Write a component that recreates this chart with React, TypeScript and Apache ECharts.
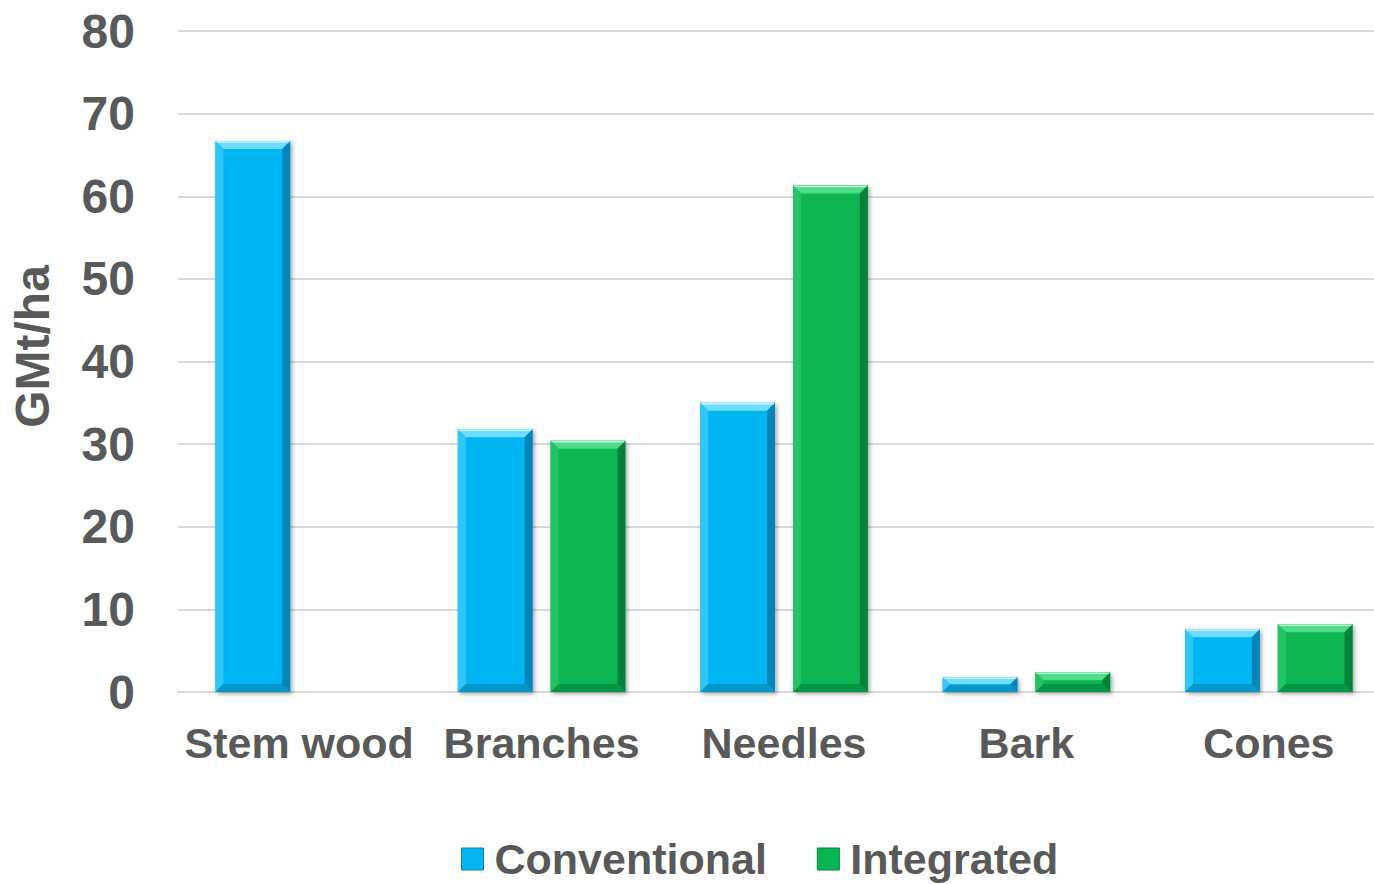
import React, { useEffect, useRef } from "react";
import * as echarts from "echarts";

const categories = ["Stem wood", "Branches", "Needles", "Bark", "Cones"];
const conventional: (number | null)[] = [66.7, 31.8, 35.0, 1.8, 7.6];
const integrated: (number | null)[] = [null, 30.4, 61.3, 2.4, 8.2];
const yTicks = { min: 0, max: 80, interval: 10 };

const FONT = "'Liberation Sans', Arial, sans-serif";
const TEXT = "#595959";

const palettes = {
  conv: { main: "#05B6F2", top: "#6FDDFF", left: "#2EC6F8", right: "#0385B8", bottom: "#0596CC" },
  integ: { main: "#07B552", top: "#4FDC88", left: "#22C466", right: "#03803A", bottom: "#059844" },
};

function makeRender(pal: any, side: number) {
  return (params: any, api: any) => {
    const v = api.value(1);
    if (v === null || v === undefined || isNaN(v)) return null;
    const ci = api.value(0);
    const base = api.coord([ci, 0]);
    const top = api.coord([ci, v]);
    const catW = api.size([1, 0])[0];
    const bw = (catW * 75) / 243;
    const off = (catW * 46.5) / 243;
    const cx = base[0] + side * off;
    const x0 = cx - bw / 2;
    const x1 = cx + bw / 2;
    const y0 = top[1];
    const y1 = base[1];
    const h = y1 - y0;
    const b = Math.min(8, h / 2, bw / 2);
    return {
      type: "group",
      children: [
        {
          type: "rect",
          shape: { x: x0, y: y0, width: bw, height: h },
          style: {
            fill: pal.main,
            shadowColor: "rgba(0,0,0,0.35)",
            shadowBlur: 4,
            shadowOffsetX: 2,
            shadowOffsetY: 2,
          },
        },
        {
          type: "polygon",
          shape: { points: [[x0, y0], [x1, y0], [x1 - b, y0 + b], [x0 + b, y0 + b]] },
          style: { fill: pal.top },
        },
        {
          type: "polygon",
          shape: { points: [[x0, y0], [x0 + b, y0 + b], [x0 + b, y1 - b], [x0, y1]] },
          style: { fill: pal.left },
        },
        {
          type: "polygon",
          shape: { points: [[x1, y0], [x1, y1], [x1 - b, y1 - b], [x1 - b, y0 + b]] },
          style: { fill: pal.right },
        },
        {
          type: "polygon",
          shape: { points: [[x0, y1], [x0 + b, y1 - b], [x1 - b, y1 - b], [x1, y1]] },
          style: { fill: pal.bottom },
        },
        {
          type: "line",
          shape: { x1: x0 + 1, y1: y0 + 1, x2: x1 - 1, y2: y0 + 1 },
          style: { stroke: "rgba(255,255,255,0.6)", lineWidth: 1.5 },
        },
      ],
    };
  };
}

function toData(arr: (number | null)[]) {
  const out: any[] = [];
  arr.forEach((v, i) => {
    if (v !== null) out.push([i, v]);
  });
  return out;
}

export default function App() {
  const ref = useRef<HTMLDivElement>(null);
  useEffect(() => {
    if (!ref.current) return;
    const chart = echarts.init(ref.current, null, { renderer: "svg" });
    chart.setOption({
      animation: false,
      backgroundColor: "#ffffff",
      textStyle: { fontFamily: FONT },
      grid: { left: 175, top: 31, width: 1215, height: 661, containLabel: false },
      legend: {
        left: 456,
        top: 832,
        icon: "rect",
        itemWidth: 22,
        itemHeight: 22,
        itemGap: 50,
        textStyle: {
          fontFamily: FONT,
          fontWeight: "bold",
          fontSize: 43,
          lineHeight: 44,
          color: TEXT,
          padding: [0, 0, 0, 6],
        },
        data: [
          { name: "Conventional", itemStyle: { color: palettes.conv.main, borderColor: "#0385B8", borderWidth: 1 } },
          { name: "Integrated", itemStyle: { color: palettes.integ.main, borderColor: "#03803A", borderWidth: 1 } },
        ],
      },
      xAxis: {
        type: "category",
        data: categories,
        axisLine: { show: true, lineStyle: { color: "#D9D9D9", width: 2 } },
        axisTick: { show: false },
        axisLabel: {
          margin: 29,
          fontFamily: FONT,
          fontWeight: "bold",
          fontSize: 43,
          color: TEXT,
          interval: 0,
        },
      },
      yAxis: {
        type: "value",
        min: yTicks.min,
        max: yTicks.max,
        interval: yTicks.interval,
        name: "GMt/ha",
        nameLocation: "middle",
        nameGap: 122,
        nameTextStyle: {
          fontFamily: FONT,
          fontWeight: "bold",
          fontSize: 48,
          color: TEXT,
          padding: [0, 0, 0, 30],
        },
        axisLine: { show: false },
        axisTick: { show: false },
        splitLine: { lineStyle: { color: "#D9D9D9", width: 2 } },
        axisLabel: {
          margin: 43,
          fontFamily: FONT,
          fontWeight: "bold",
          fontSize: 48,
          color: TEXT,
        },
      },
      series: [
        {
          name: "Conventional",
          type: "custom",
          itemStyle: { color: palettes.conv.main },
          encode: { x: 0, y: 1 },
          data: toData(conventional),
          renderItem: makeRender(palettes.conv, -1),
        },
        {
          name: "Integrated",
          type: "custom",
          itemStyle: { color: palettes.integ.main },
          encode: { x: 0, y: 1 },
          data: toData(integrated),
          renderItem: makeRender(palettes.integ, 1),
        },
      ],
    });
    return () => chart.dispose();
  }, []);
  return (
    <div
      ref={ref}
      style={{ position: "fixed", left: 0, top: 0, width: 1391, height: 884 }}
    />
  );
}
